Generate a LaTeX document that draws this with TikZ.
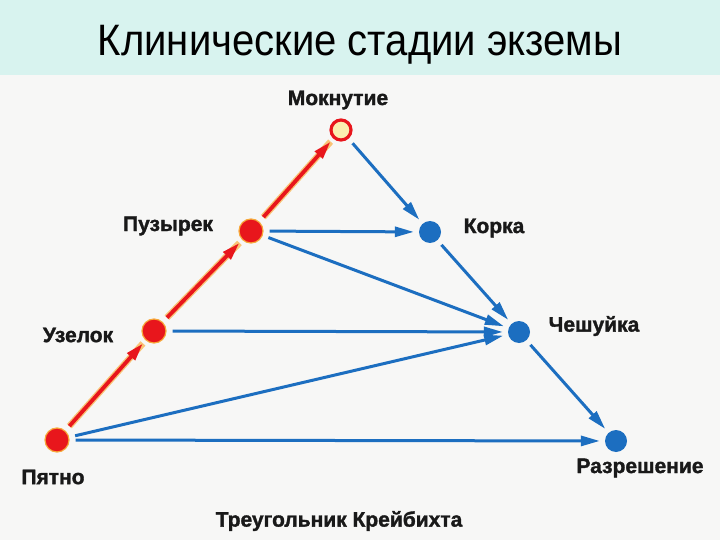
\documentclass[tikz,border=0pt]{standalone}
\usepackage{fontspec}
\usepackage{graphicx}
\setmainfont{Liberation Sans}
\newfontfamily\heavy[FakeBold=1.5]{Liberation Sans Bold}
\usetikzlibrary{arrows.meta}
\definecolor{band}{HTML}{D8F3EF}
\definecolor{paper}{HTML}{F7F7F6}
\definecolor{bl}{HTML}{1C6EC0}
\definecolor{rd}{HTML}{E8161C}
\definecolor{glow}{HTML}{F7A93A}
\definecolor{ringin}{HTML}{FBEFB0}
\begin{document}
\begin{tikzpicture}[x=1pt,y=-1pt,
  reddot/.style={circle,fill=rd,draw=glow,line width=1.2pt,minimum size=24pt,inner sep=0pt},
  bluedot/.style={circle,fill=bl,minimum size=22pt,inner sep=0pt},
  ring/.style={circle,fill=ringin,draw=rd,line width=3.2pt,minimum size=20pt,inner sep=0pt},
  lbl/.style={font=\fontsize{21}{23}\heavy,text=black!90,inner sep=0pt},
  barrow/.style={draw=bl,line width=3pt,-{Triangle[length=19pt,width=10pt]},shorten <=6pt,shorten >=5pt},
  rarrow/.style={draw=rd,line width=3.8pt,-{Triangle[length=18pt,width=10pt]},shorten <=6pt,shorten >=4pt},
  rglow/.style={draw=glow!70,line width=6.5pt,shorten <=6pt,shorten >=4pt}]
\useasboundingbox (0,0) rectangle (720,540);
\fill[paper] (0,0) rectangle (720,540);
\fill[band] (0,0) rectangle (720,75);
\node[font=\fontsize{44}{50}\selectfont,inner sep=0pt] (title) at (360,45) {\scalebox{0.91}[1]{Клинические стадии экземы}};

\node[ring] (mok) at (341,130) {};
\node[reddot] (puz) at (251,231) {};
\node[reddot] (uz) at (154,331) {};
\node[reddot] (pyat) at (57,440) {};
\node[bluedot] (kor) at (430,232) {};
\node[bluedot] (chesh) at (519,332) {};
\node[bluedot] (raz) at (616,441) {};

\node[lbl] (lmok) at (338,100) {Мокнутие};
\node[lbl] (lpuz) at (168,226) {Пузырек};
\node[lbl] (luz) at (78,335) {Узелок};
\node[lbl] (lpyat) at (53,477) {Пятно};
\node[lbl] (lkor) at (494,228) {Корка};
\node[lbl] (lchesh) at (594,326) {Чешуйка};
\node[lbl] (lraz) at (640,468) {Разрешение};
\node[lbl] (ltri) at (339,521) {Треугольник Крейбихта};

\draw[rglow] (pyat) -- (uz);
\draw[rglow] (uz) -- (puz);
\draw[rglow] (puz) -- (mok);
\draw[rarrow] (pyat) -- (uz);
\draw[rarrow] (uz) -- (puz);
\draw[rarrow] (puz) -- (mok);

\draw[barrow] (mok) -- (kor);
\draw[barrow] (puz) -- (kor);
\draw[barrow] (puz) -- (chesh);
\draw[barrow] (kor) -- (chesh);
\draw[barrow] (uz) -- (chesh);
\draw[barrow] (pyat) -- (chesh);
\draw[barrow] (chesh) -- (raz);
\draw[barrow] (pyat) -- (raz);
\end{tikzpicture}
\end{document}
